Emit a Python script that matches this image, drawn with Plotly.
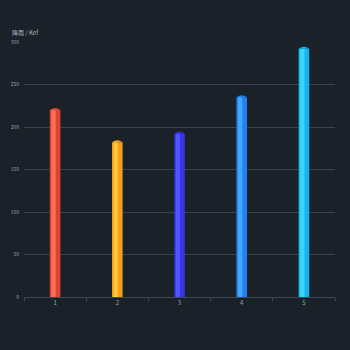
import plotly.graph_objects as go

categories = ["1", "2", "3", "4", "5"]
values = [220, 182, 192, 235, 292]
dark_colors = ["#dc4436", "#f0a01c", "#3434e8", "#2482f0", "#18b4f0"]
light_colors = ["#ff6e50", "#ffc438", "#5454ff", "#40a6ff", "#3cd4ff"]
y_ticks = [0, 50, 100, 150, 200, 250, 300]
y_title = "降雨 / Kef"

xs = list(range(1, len(categories) + 1))
fig = go.Figure()
fig.add_trace(go.Bar(x=xs, y=values, width=0.17, marker=dict(color=dark_colors, line=dict(width=0)),
                     hoverinfo="skip", showlegend=False))
fig.add_trace(go.Bar(x=xs, y=values, width=0.07, offset=-0.06, marker=dict(color=light_colors, line=dict(width=0)),
                     hoverinfo="skip", showlegend=False))

shapes = []
hw = 0.085
for x, v, c in zip(xs, values, dark_colors):
    shapes.append(dict(type="path", xref="x", yref="y",
                       path=f"M {x-hw},{v} Q {x},{v+5} {x+hw},{v} Z",
                       fillcolor=c, line=dict(width=0), layer="above"))
    shapes.append(dict(type="path", xref="x", yref="y",
                       path=f"M {x-hw},0 Q {x},-4 {x+hw},0 Z",
                       fillcolor=c, line=dict(width=0), layer="above"))

fig.update_layout(
    width=350, height=350,
    margin=dict(l=24, r=15, t=42, b=53),
    paper_bgcolor="#1a2129", plot_bgcolor="#1a2129",
    barmode="overlay",
    shapes=shapes,
    font=dict(family="Noto Sans CJK SC, Noto Sans, sans-serif", size=6, color="#9aa3ab"),
    xaxis=dict(range=[0.5, 5.5], tickvals=xs, ticktext=categories, showgrid=False, zeroline=False,
               showline=True, linecolor="#3b4a55", linewidth=1, ticks="", ticklen=0,
               minor=dict(tick0=0.5, dtick=1, ticks="outside", ticklen=3, tickcolor="#3b4a55"),
               tickfont=dict(size=6, color="#9aa3ab"), fixedrange=True),
    yaxis=dict(range=[0, 300], tickvals=y_ticks, showgrid=True, gridcolor="#34434d", gridwidth=1,
               zeroline=False, showline=False, ticks="", tickfont=dict(size=5, color="#9aa3ab"),
               ticklabelstandoff=4),
    annotations=[dict(text=y_title, xref="paper", yref="paper", x=-0.045, y=1.01, xanchor="left",
                      yanchor="bottom", showarrow=False, font=dict(size=6, color="#b0b8bf"))],
)
fig.write_html("out.html")
